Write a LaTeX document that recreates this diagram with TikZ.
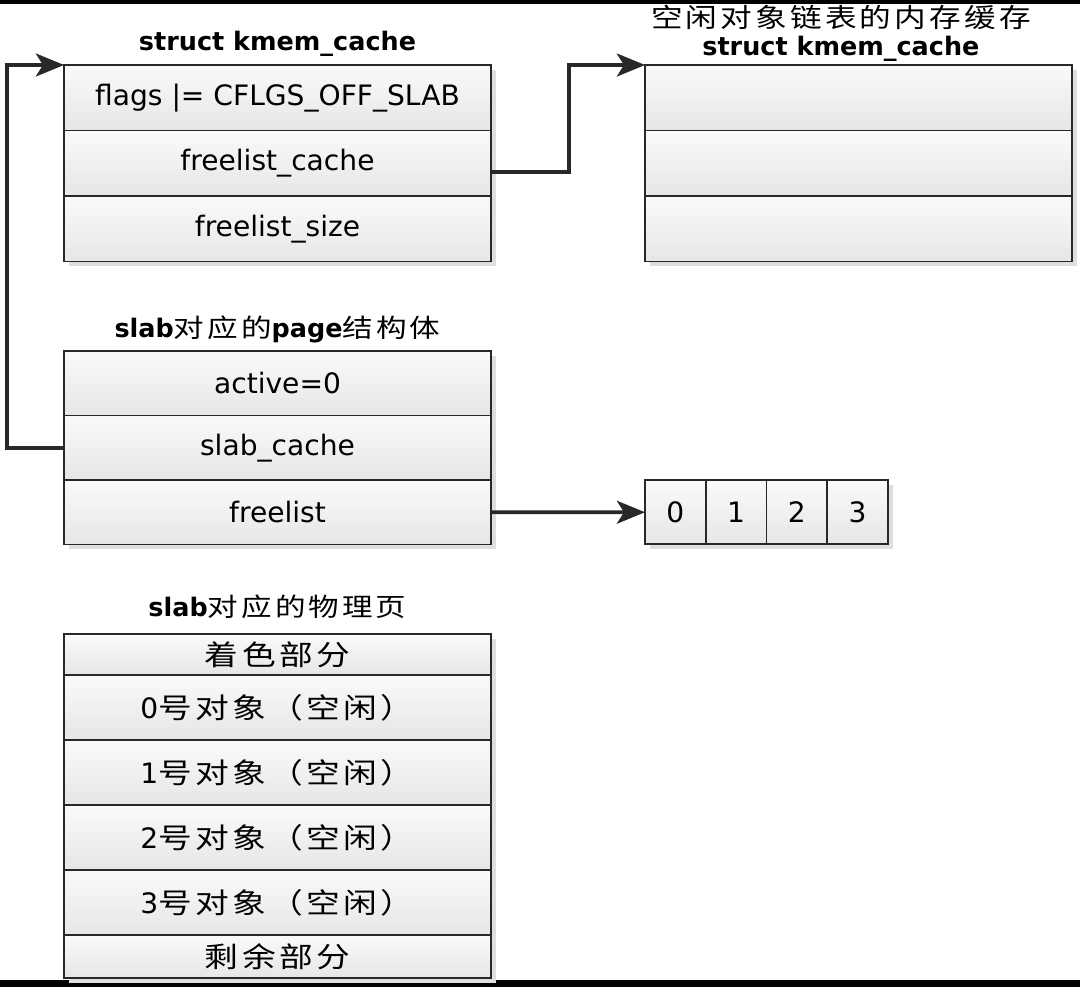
\documentclass[tikz,border=0pt]{standalone}
\usepackage{fontspec}
\setmainfont{DejaVu Sans}
\newfontfamily\cjk[FakeStretch=1.2,LetterSpace=12]{Noto Sans CJK SC}
\usetikzlibrary{arrows.meta,positioning,shadows}
\definecolor{slabline}{RGB}{40,40,40}
\definecolor{slabtop}{RGB}{250,250,250}
\definecolor{slabfill}{RGB}{230,230,230}

\begin{document}
\begin{tikzpicture}[x=0.02cm, y=-0.02cm,
    cell/.style={draw=slabline, line width=1pt, top color=slabtop, bottom color=slabfill,
                 minimum width=8.54cm, minimum height=1.31cm, inner sep=0pt, outer sep=0pt,
                 font=\fontsize{16}{19}\selectfont,
                 drop shadow={shadow xshift=2.8pt, shadow yshift=-2.8pt, fill=black!13, opacity=1}},
    slot/.style={cell, minimum width=1.215cm, minimum height=1.28cm},
    title/.style={font=\fontsize{14.5}{17}\selectfont\bfseries, inner sep=1pt,
                  text height=11pt, text depth=3pt},
    cjktitle/.style={title, font=\fontsize{15}{18}\selectfont\cjk},
    link/.style={-{Stealth[length=16pt, width=13pt, inset=4pt]}, line width=2.2pt, draw=slabline},
]
    \useasboundingbox (0,0) rectangle (1080,987);
    \fill[black] (0,0) rectangle (1080,4);
    \fill[black] (0,980) rectangle (1080,987);

    % struct kmem_cache
    \node[cell] (flags) at (277.5,97.75) {flags |= CFLGS\_OFF\_SLAB};
    \node[cell, below=0pt of flags] (fcache) {freelist\_cache};
    \node[cell, below=0pt of fcache] (fsize) {freelist\_size};
    \node[title, above=3.9pt of flags] (kmem) {struct kmem\_cache};

    % freelist cache
    \node[cell] (fc1) at (858.5,97.75) {};
    \node[cell, below=0pt of fc1] (fc2) {};
    \node[cell, below=0pt of fc2] (fc3) {};
    \node[title, above=1pt of fc1, xshift=-10pt] (fckmem) {struct kmem\_cache};
    \node[cjktitle, above=0pt of fckmem] (fcname) {空闲对象链表的内存缓存};

    % page
    \node[cell, minimum height=1.29cm] (active) at (277.5,383.25) {active=0};
    \node[cell, minimum height=1.29cm, below=0pt of active] (scache) {slab\_cache};
    \node[cell, minimum height=1.29cm, below=0pt of scache] (flist) {freelist};
    \node[title, above=3.3pt of active] (page) {slab{\cjk\mdseries 对应的}page{\cjk\mdseries 结构体}};

    % freelist array
    \node[slot] (a0) at (675.4,512.25) {0};
    \node[slot, right=0pt of a0] (a1) {1};
    \node[slot, right=0pt of a1] (a2) {2};
    \node[slot, right=0pt of a2] (a3) {3};

    % physical page
    \node[cell, minimum height=0.82cm] (colour) at (277.5,654.5) {\cjk 着色部分};
    \node[cell, minimum height=1.3cm, below=0pt of colour] (obj0) {0{\cjk 号对象（空闲）}};
    \node[cell, minimum height=1.3cm, below=0pt of obj0] (obj1) {1{\cjk 号对象（空闲）}};
    \node[cell, minimum height=1.3cm, below=0pt of obj1] (obj2) {2{\cjk 号对象（空闲）}};
    \node[cell, minimum height=1.3cm, below=0pt of obj2] (obj3) {3{\cjk 号对象（空闲）}};
    \node[cell, minimum height=0.86cm, below=0pt of obj3] (rest) {\cjk 剩余部分};
    \node[title, above=5.6pt of colour] (phys) {slab{\cjk\mdseries 对应的物理页}};

    \draw[link] ([yshift=-5pt]fcache.east) -- ++(78,0) |- (fc1.north west);
    \draw[link] (scache.west) -- ++(-57,0) |- (flags.north west);
    \draw[link] (flist.east) -- (a0.west);
\end{tikzpicture}
\end{document}
